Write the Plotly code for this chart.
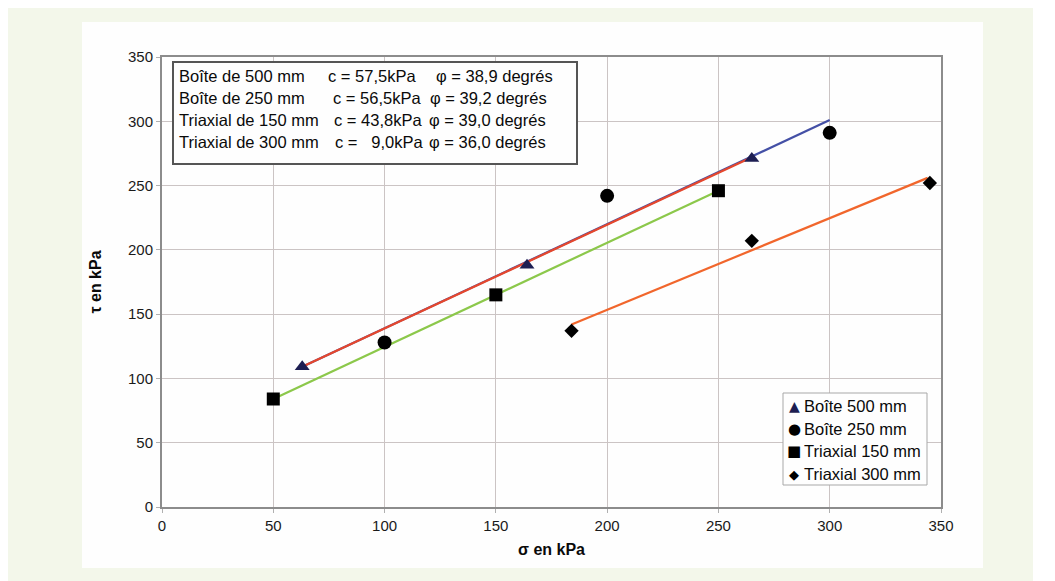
import plotly.graph_objects as go

# ---------------- data ----------------
boite500_x = [63, 164, 265]
boite500_y = [109, 188, 271]
boite250_x = [100, 200, 300]
boite250_y = [128, 242, 291]
tri150_x = [50, 150, 250]
tri150_y = [84, 165, 246]
tri300_x = [184, 265, 345]
tri300_y = [137, 207, 252]

# fitted (Mohr-Coulomb) lines: end points
fit_blue_x = [63, 300]
fit_blue_y = [109, 301]
fit_red_x = [63, 265]
fit_red_y = [109, 272]
fit_green_x = [50, 250]
fit_green_y = [84, 246]
fit_orange_x = [184, 344]
fit_orange_y = [142, 256]

series_names = ["Boîte 500 mm", "Boîte 250 mm", "Triaxial 150 mm", "Triaxial 300 mm"]
box_lines = [
    ["Boîte de 500 mm", "c = 57,5kPa", "φ = 38,9 degrés"],
    ["Boîte de 250 mm", "c = 56,5kPa", "φ = 39,2 degrés"],
    ["Triaxial de 150 mm", "c = 43,8kPa", "φ = 39,0 degrés"],
    ["Triaxial de 300 mm", "c =\u00a0\u00a0\u00a09,0kPa", "φ = 36,0 degrés"],
]
x_ticks = [0, 50, 100, 150, 200, 250, 300, 350]
y_ticks = [0, 50, 100, 150, 200, 250, 300, 350]

# ---------------- layout geometry ----------------
W, H = 1055, 581
OFF = 8  # the page body margin shifts the figure by this much
L, R, T, B = 162 - OFF, 941 - OFF, 57 - OFF, 507 - OFF  # plot area in figure pixels


def px(x):
    return (x - OFF - L) / (R - L)


def py(y):
    return (B - (y - OFF)) / (B - T)


FONT = "Liberation Sans, Arial, sans-serif"
TXT = "#0a0a0a"

fig = go.Figure()

line_w = 2.2
fig.add_trace(go.Scatter(x=fit_blue_x, y=fit_blue_y, mode="lines",
                         line=dict(color="#4450a6", width=line_w), showlegend=False, hoverinfo="skip"))
fig.add_trace(go.Scatter(x=fit_red_x, y=fit_red_y, mode="lines",
                         line=dict(color="#e5472d", width=line_w), showlegend=False, hoverinfo="skip"))
fig.add_trace(go.Scatter(x=fit_green_x, y=fit_green_y, mode="lines",
                         line=dict(color="#8cc84b", width=line_w), showlegend=False, hoverinfo="skip"))
fig.add_trace(go.Scatter(x=fit_orange_x, y=fit_orange_y, mode="lines",
                         line=dict(color="#f1662c", width=line_w), showlegend=False, hoverinfo="skip"))

fig.add_trace(go.Scatter(x=boite500_x, y=boite500_y, mode="markers", name=series_names[0],
                         marker=dict(symbol="triangle-up", size=13, color="#1d1e52", line=dict(width=0)),
                         showlegend=False))
fig.add_trace(go.Scatter(x=boite250_x, y=boite250_y, mode="markers", name=series_names[1],
                         marker=dict(symbol="circle", size=14, color="#000000", line=dict(width=0)),
                         showlegend=False))
fig.add_trace(go.Scatter(x=tri150_x, y=tri150_y, mode="markers", name=series_names[2],
                         marker=dict(symbol="square", size=13, color="#000000", line=dict(width=0)),
                         showlegend=False))
fig.add_trace(go.Scatter(x=tri300_x, y=tri300_y, mode="markers", name=series_names[3],
                         marker=dict(symbol="diamond", size=11, color="#000000", line=dict(width=0)),
                         showlegend=False))

shapes = [
    # greenish page panel
    dict(type="rect", xref="paper", yref="paper", layer="below",
         x0=px(7), x1=px(1033), y0=py(590), y1=py(6),
         fillcolor="#f3f7ea", line=dict(width=0)),
    # white chart card
    dict(type="rect", xref="paper", yref="paper", layer="below",
         x0=px(82), x1=px(983), y0=py(568), y1=py(22),
         fillcolor="#fefefe", line=dict(width=0)),
    # parameter box
    dict(type="rect", xref="paper", yref="paper", layer="above",
         x0=px(173), x1=px(577), y0=py(164), y1=py(62),
         fillcolor="#fefefe", line=dict(color="#555555", width=2)),
    # legend box
    dict(type="rect", xref="paper", yref="paper", layer="above",
         x0=px(783), x1=px(927), y0=py(485), y1=py(393),
         fillcolor="#fefefe", line=dict(color="#a8a8a8", width=1)),
]

annotations = []
row_y = [76, 98, 120, 142]
col_x = [[177, 326, 434], [177, 331, 428], [177, 332, 427], [177, 333, 427]]
for r, parts in enumerate(box_lines):
    for c, txt in enumerate(parts):
        annotations.append(dict(
            xref="paper", yref="paper", x=px(col_x[r][c]), y=py(row_y[r]),
            xanchor="left", yanchor="middle", showarrow=False, text=txt,
            font=dict(family=FONT, size=16.5, color=TXT)))

leg_y = [406, 429, 451, 474]
glyphs = ["▲", "●", "■", "◆"]
glyph_col = ["#1d1e52", "#000000", "#000000", "#000000"]
glyph_size = [14, 15, 15, 13]
for i, name in enumerate(series_names):
    annotations.append(dict(
        xref="paper", yref="paper", x=px(794), y=py(leg_y[i]),
        xanchor="center", yanchor="middle", showarrow=False, text=glyphs[i],
        font=dict(family="DejaVu Sans", size=glyph_size[i], color=glyph_col[i])))
    annotations.append(dict(
        xref="paper", yref="paper", x=px(802), y=py(leg_y[i]),
        xanchor="left", yanchor="middle", showarrow=False, text=name,
        font=dict(family=FONT, size=16.5, color=TXT)))

axis_common = dict(
    showline=True, mirror=True, linecolor="#8c8c8c", linewidth=2,
    showgrid=True, gridcolor="#cbc4c4", gridwidth=1, zeroline=False,
    ticks="outside", ticklen=4, tickcolor="#b0b0b0",
    tickfont=dict(family=FONT, size=15, color="#1a1a1a"),
)

fig.update_layout(
    width=W, height=H,
    margin=dict(l=L, r=W - R, t=T, b=H - B, pad=0),
    paper_bgcolor="#ffffff", plot_bgcolor="#ffffff",
    showlegend=False,
    shapes=shapes, annotations=annotations,
    xaxis=dict(range=[0, 350], tickvals=x_ticks, ticktext=[str(v) for v in x_ticks],
               title=dict(text="<b>σ en kPa</b>", standoff=11,
                          font=dict(family=FONT, size=16, color=TXT)),
               **axis_common),
    yaxis=dict(range=[0, 350], tickvals=y_ticks, ticktext=[str(v) for v in y_ticks],
               title=dict(text="<b>τ en kPa</b>", standoff=22,
                          font=dict(family=FONT, size=16, color=TXT)),
               **axis_common),
)

fig.write_html("out.html")
